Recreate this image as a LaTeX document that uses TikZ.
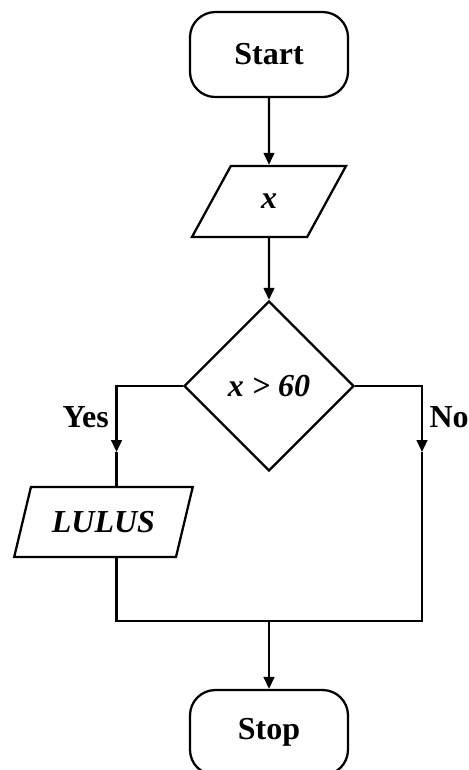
\documentclass[tikz,border=0pt]{standalone}
\usepackage{fontspec}
\setmainfont{Liberation Serif}
\usetikzlibrary{arrows.meta,positioning,shapes.geometric}
\tikzset{
  term/.style={draw,rounded corners=19pt,line width=1.7pt,minimum width=118.5pt,minimum height=63.75pt,font=\fontsize{24}{28}\selectfont\bfseries},
  io/.style={draw,trapezium,trapezium left angle=61,trapezium right angle=119,trapezium stretches=true,line width=1.7pt,inner sep=0pt,font=\fontsize{24}{28}\selectfont\bfseries\itshape},
  cond/.style={draw,diamond,aspect=1,minimum width=127.5pt,minimum height=127.5pt,inner sep=0pt,line width=1.7pt,font=\fontsize{24}{28}\selectfont\bfseries\itshape},
  lbl/.style={inner sep=0pt,font=\fontsize{24}{28}\selectfont\bfseries},
  arr/.style={-{Triangle[length=9pt,width=8pt]},line width=1.7pt},
  ln/.style={line width=1.7pt},
}
\begin{document}
\begin{tikzpicture}
  \useasboundingbox (0,0) rectangle (351pt,-577.5pt);
  \node[term] (start) at (201.75pt,-40.9pt) {Start};
  \node[io,minimum width=115.5pt,minimum height=53.25pt] (in) at (201.75pt,-151.1pt) {x};
  \node[cond] (test) at (201.75pt,-289.5pt) {x > 60};
  \node[io,minimum width=134pt,minimum height=52.5pt] (out) at (77.6pt,-391.5pt) {LULUS};
  \node[term] (stop) at (201.75pt,-549.4pt) {Stop};
  \coordinate (yesA) at (87.4pt,-339pt);
  \coordinate (noA) at (316.5pt,-339pt);
  \coordinate (join) at (201.75pt,-465.75pt);
  \node[lbl,anchor=east] (yes) at (81.75pt,-313pt) {Yes};
  \node[lbl,anchor=west] (no) at (322pt,-313pt) {No};
  \draw[arr] (start) -- (in);
  \draw[arr] (in) -- (test);
  \draw[arr] (test.west) -| (yesA);
  \draw[ln] (yesA) -- (yesA |- out.north);
  \draw[arr] (test.east) -| (noA);
  \draw[ln] (yesA |- out.south) -- (yesA |- join) -- (noA |- join) -- (noA);
  \draw[arr] (join) -- (stop);
\end{tikzpicture}
\end{document}
